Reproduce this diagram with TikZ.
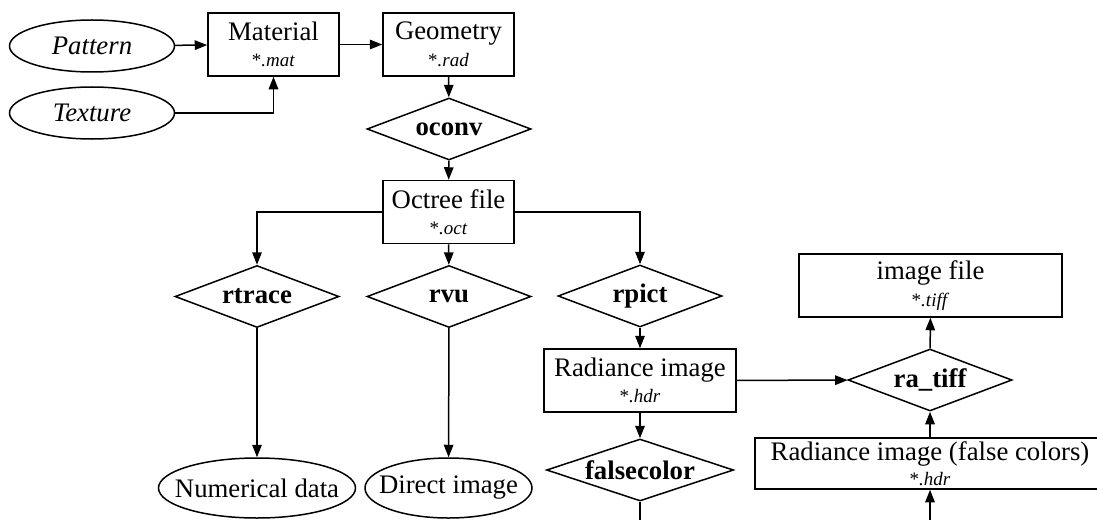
\documentclass[tikz,border=0pt]{standalone}
\usepackage{fontspec}
\setmainfont{Liberation Serif}
\usetikzlibrary{shapes.geometric}
\usetikzlibrary{arrows.meta,positioning}
\newcommand{\ext}[1]{{\fontsize{7.6}{9}\selectfont *\textit{.#1}}}
\newcommand{\nowidth}[1]{\makebox[0pt]{#1}}

\begin{document}
\begin{tikzpicture}[x=0.4pt,y=-0.4pt,>={Triangle[length=5pt,width=3.8pt]},line width=0.6pt,font=\fontsize{10.7}{9}\selectfont]
\tikzstyle{file}=[rectangle,draw=black,inner sep=0pt,minimum width=52.4pt,minimum height=25.2pt,align=center]
\tikzstyle{prog}=[diamond,draw=black,inner sep=0pt,aspect=2.6,minimum width=65.6pt,minimum height=24.8pt,font=\fontsize{10.7}{12}\selectfont\bfseries]
\tikzstyle{data}=[ellipse,draw=black,inner sep=0pt,minimum width=66pt,minimum height=24pt]
\useasboundingbox (0,0) rectangle (1097,519);
\clip (0,0) rectangle (1097,519);
\node [data,minimum height=20.8pt] (0) at(92,46) {\nowidth{\textit{Pattern}}};
\node [data,minimum height=20.8pt] (1) at(92,113) {\nowidth{\textit{Texture}}};
\node [file] (2) at(273.5,44.5) {Material\\[1.6pt]\ext{mat}};
\node [file] (3) at(448.5,44.5) {Geometry\\[1.6pt]\ext{rad}};
\node [prog] (4) at(449,129) {oconv};
\node [file] (5) at(448.5,212) {Octree file\\[1.6pt]\ext{oct}};
\node [prog] (6) at(257,296.5) {rtrace};
\node [prog] (7) at(449,296.5) {rvu};
\node [prog] (8) at(640,296) {rpict};
\node [data,minimum width=78.8pt] (9) at(257,488) {\nowidth{Numerical data}};
\node [data,minimum width=66.8pt] (10) at(448.5,488) {\nowidth{Direct image}};
\node [file,minimum width=76.8pt] (11) at(640,380.5) {Radiance image\\[1.6pt]\ext{hdr}};
\node [prog,minimum width=74.8pt] (12) at(640,470) {falsecolor};
\node [prog] (13) at(930,380) {ra\_tiff};
\node [file,minimum width=105.2pt] (14) at(930.5,285.5) {image file\\[1.6pt]\ext{tiff}};
\node [file,minimum width=140pt,minimum height=20.4pt] (15) at(930,463.5) {Radiance image (false colors)\\[1pt]\ext{hdr}};
\coordinate (16) at(640,560);
\path [->] (0) edge (2);
\draw [->] (1) -| (2);
\path [->] (2) edge (3);
\path [->] (3) edge (4);
\path [->] (4) edge (5);
\draw [->] (5) -| (6);
\path [->] (5) edge (7);
\draw [->] (5) -| (8);
\path [->] (6) edge (9);
\path [->] (7) edge (10);
\path [->] (8) edge (11);
\path [->] (11) edge (13);
\path [->] (11) edge (12);
\path [->] (13) edge (14);
\path [->] (15) edge (13);
\draw [->] (12) -- (16) -| (15);
\end{tikzpicture}
\end{document}
